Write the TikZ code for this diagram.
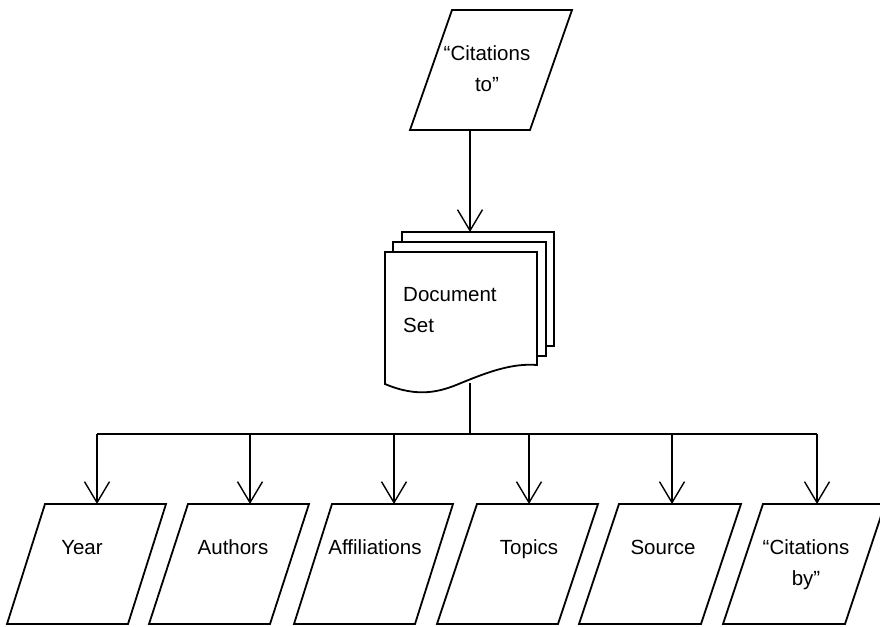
\documentclass[tikz,border=0pt]{standalone}
\usepackage{fontspec}
\setmainfont{Liberation Sans}
\usetikzlibrary{arrows.meta}

\tikzset{
  outline/.style={draw=black, line width=1.8pt, line join=miter},
  thinline/.style={draw=black, line width=1.1pt},
  flow/.style={draw=black, line width=1.8pt,
    -{Straight Barb[length=21pt,width=25pt,line width=1.4pt]}},
  label/.style={font=\fontsize{20.5}{31}\selectfont, inner sep=0pt, align=center, anchor=base},
}

% data block: #1 top-left x, #2 top y, #3 name, #4 width, #5 slant
\newcommand{\datablock}[5]{%
  \draw[outline] (#1,#2) coordinate (#3-tl) -- ++(#4,0) -- ++(-#5,120)
    -- ++(-#4,0) -- cycle;
}

\begin{document}
\begin{tikzpicture}[x=1pt, y=-1pt]
  \useasboundingbox (0,0) rectangle (880,626);

  % input block at the top
  \datablock{452}{10}{cto}{120}{42}
  \node[label] (ctotext) at (487,91) {“Citations\\[0pt]to”};
  \coordinate (ctoout) at (470,130);

  % stacked document sheets
  \draw[outline] (402,242) -- (402,232) -- (554,232) -- (554,346) -- (546,346);
  \draw[outline] (393,252) -- (393,242) -- (546,242) -- (546,356) -- (537,356);
  \draw[outline, fill=white] (385,252) -- (537,252) -- (537,365)
    .. controls (512,363) and (488,372) .. (461,383)
    .. controls (440,392) and (418,398) .. (385,384) -- cycle;
  \node[label, align=left, anchor=base west] (doctext) at (403,332) {Document\\[0pt]Set};
  \coordinate (docout) at (470,383);
  \coordinate (docin) at (470,232);

  \draw[flow] (ctoout) -- (docin);

  % distribution bus
  \coordinate (hub) at (470,434);
  \draw[thinline] (docout) -- (hub);
  \coordinate (busL) at (97,434);
  \coordinate (busR) at (817,434);
  \draw[thinline] (busL) -- (busR);

  % output blocks
  \datablock{45}{504}{year}{121}{38}
  \datablock{188}{504}{auth}{121}{39}
  \datablock{332}{504}{affil}{121}{38}
  \datablock{477}{504}{topic}{121}{40}
  \datablock{619}{504}{source}{122}{40}
  \datablock{763}{504}{citby}{122}{40}

  \node[label] (yeartext) at (82,554) {Year};
  \node[label] (authtext) at (233,554) {Authors};
  \node[label] (affiltext) at (375,554) {Affiliations};
  \node[label] (topictext) at (529,554) {Topics};
  \node[label] (sourcetext) at (663,554) {Source};
  \node[label] (citbytext) at (806,585) {“Citations\\[0pt]by”};

  % arrows into the output blocks
  \foreach \x/\n in {97/year, 250/auth, 394/affil, 529/topic, 672/source, 817/citby}{
    \coordinate (\n-in) at (\x,504);
    \coordinate (\n-tap) at (\x,434);
    \draw[flow] (\n-tap) -- (\n-in);
  }
\end{tikzpicture}
\end{document}
